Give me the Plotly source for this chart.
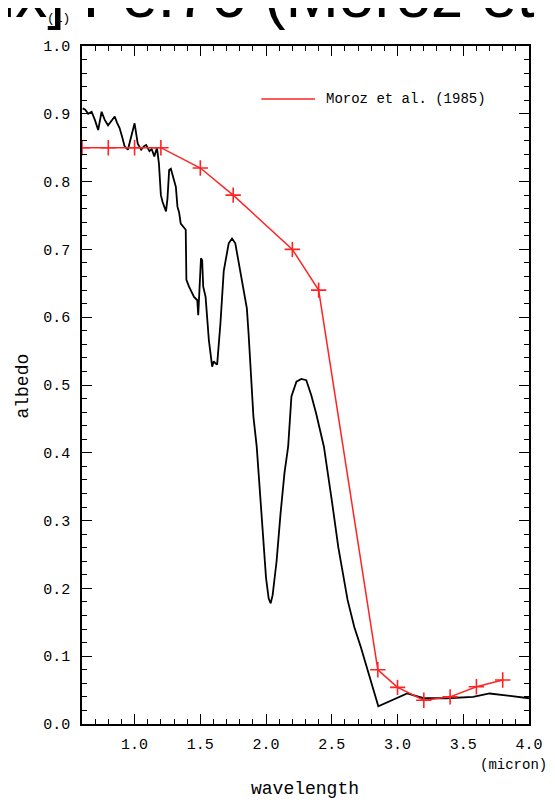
import plotly.graph_objects as go

# Black spectrum
wl_black = [0.605, 0.625, 0.647, 0.673, 0.698, 0.723, 0.749, 0.773, 0.798, 0.82,
            0.849, 0.866, 0.886, 0.905, 0.924, 0.949, 0.975, 1.0, 1.024, 1.05,
            1.07, 1.088, 1.113, 1.13, 1.15, 1.163, 1.17, 1.185, 1.20, 1.213,
            1.239, 1.25, 1.263, 1.276, 1.30, 1.314, 1.326, 1.339, 1.351, 1.376,
            1.389, 1.394, 1.414, 1.452, 1.477, 1.484, 1.495, 1.505, 1.514, 1.522,
            1.54, 1.565, 1.59, 1.602, 1.615, 1.628, 1.653, 1.678, 1.716, 1.741,
            1.766, 1.804, 1.854, 1.867, 1.879, 1.904, 1.929, 1.95, 1.98, 2.00,
            2.02, 2.035, 2.05, 2.08, 2.11, 2.14, 2.168, 2.193, 2.231, 2.268,
            2.306, 2.344, 2.381, 2.419, 2.44, 2.50, 2.55, 2.62, 2.671, 2.72,
            2.771, 2.822, 2.854, 3.073, 3.199, 3.374, 3.575, 3.70, 3.80, 3.90, 4.0]
alb_black = [0.908, 0.906, 0.900, 0.903, 0.891, 0.876, 0.903, 0.891, 0.883, 0.888,
             0.896, 0.887, 0.879, 0.866, 0.852, 0.847, 0.866, 0.886, 0.856, 0.847,
             0.852, 0.854, 0.845, 0.848, 0.837, 0.844, 0.850, 0.827, 0.780, 0.770,
             0.756, 0.775, 0.817, 0.819, 0.800, 0.792, 0.763, 0.754, 0.738, 0.733,
             0.729, 0.655, 0.645, 0.630, 0.625, 0.603, 0.660, 0.687, 0.684, 0.645,
             0.630, 0.566, 0.527, 0.535, 0.532, 0.530, 0.591, 0.668, 0.709, 0.716,
             0.709, 0.665, 0.613, 0.576, 0.536, 0.453, 0.409, 0.350, 0.270, 0.215,
             0.185, 0.178, 0.190, 0.240, 0.310, 0.370, 0.409, 0.483, 0.505, 0.509,
             0.507, 0.485, 0.458, 0.429, 0.409, 0.330, 0.260, 0.183, 0.143, 0.114,
             0.080, 0.045, 0.026, 0.045, 0.038, 0.038, 0.040, 0.045, 0.043, 0.040, 0.038]

# Moroz et al. (1985)
wl_moroz = [0.6, 0.8, 1.0, 1.2, 1.5, 1.75, 2.2, 2.4, 2.85, 3.0, 3.2, 3.4, 3.6, 3.8]
alb_moroz = [0.85, 0.85, 0.85, 0.85, 0.82, 0.78, 0.70, 0.64, 0.08, 0.054, 0.035, 0.04, 0.055, 0.065]

legend_label = "Moroz et al. (1985)"
x_title = "wavelength"
y_title = "albedo"
x_unit = "(micron)"
y_unit = "(1)"
title_text = "ix] Fe.76 (Moroz et al.)"

RED = "#ff2424"
MONO = "Liberation Mono"

fig = go.Figure()
fig.add_trace(go.Scatter(x=wl_black, y=alb_black, mode="lines",
                         line=dict(color="black", width=1.8), showlegend=False))
fig.add_trace(go.Scatter(x=wl_moroz, y=alb_moroz, mode="lines+markers",
                         line=dict(color=RED, width=1.5),
                         marker=dict(symbol="cross-thin", size=11,
                                     line=dict(color=RED, width=1.6)),
                         name=legend_label, showlegend=False))

axis_common = dict(
    showgrid=False, zeroline=False, showline=True, linecolor="black", linewidth=1.5,
    mirror="ticks", ticks="inside", ticklen=10, tickwidth=1.3, tickcolor="black",
    tickfont=dict(family=MONO, size=15, color="black"),
)

fig.update_xaxes(range=[0.6, 4.0], dtick=0.5, tick0=0.5, tickformat=".1f",
                 ticklabelstandoff=5,
                 minor=dict(dtick=0.1, ticks="inside", ticklen=5, tickwidth=1.3,
                            tickcolor="black"),
                 **axis_common)
fig.update_yaxes(range=[0.0, 1.0], dtick=0.1, tick0=0, tickformat=".1f",
                 ticklabelstandoff=7,
                 minor=dict(dtick=0.02, ticks="inside", ticklen=5, tickwidth=1.3,
                            tickcolor="black"),
                 **axis_common)

# Page body adds an 8px offset; plot area target in screenshot pixels
OFF = 8
SX0, SX1, SY0, SY1 = 82, 533, 46, 724
FIG_W, FIG_H = 555 - OFF, 803 - OFF
PW, PH = SX1 - SX0, SY1 - SY0
L, T = SX0 - OFF, SY0 - OFF
R, B = FIG_W - L - PW, FIG_H - T - PH


def px(xs):
    return (xs - SX0) / PW


def py(ys):
    return (SY1 - ys) / PH


annotations = [
    dict(text=x_title, x=px(307), y=py(789), xref="paper", yref="paper",
         showarrow=False, xanchor="center", yanchor="middle",
         font=dict(family=MONO, size=18, color="black")),
    dict(text=y_title, x=px(22), y=py(386), xref="paper", yref="paper",
         showarrow=False, xanchor="center", yanchor="middle", textangle=-90,
         font=dict(family=MONO, size=18, color="black")),
    dict(text=x_unit, x=px(517), y=py(765), xref="paper", yref="paper",
         showarrow=False, xanchor="center", yanchor="middle",
         font=dict(family=MONO, size=14, color="black")),
    dict(text=y_unit, x=px(58), y=py(18), xref="paper", yref="paper",
         showarrow=False, xanchor="center", yanchor="middle",
         font=dict(family=MONO, size=13, color="black")),
    dict(text=legend_label, x=px(326), y=py(99), xref="paper", yref="paper",
         showarrow=False, xanchor="left", yanchor="middle",
         font=dict(family=MONO, size=14, color="black")),
    dict(text=title_text, x=px(-2), y=py(33), xref="paper", yref="paper",
         showarrow=False, xanchor="left", yanchor="bottom",
         font=dict(family="Liberation Sans", size=64, color="black")),
]

shapes = [
    dict(type="line", xref="paper", yref="paper", x0=px(263), x1=px(317),
         y0=py(99), y1=py(99), line=dict(color=RED, width=1.5)),
]

fig.update_layout(
    width=FIG_W, height=FIG_H,
    margin=dict(l=L, r=R, t=T, b=B),
    paper_bgcolor="white", plot_bgcolor="white",
    annotations=annotations, shapes=shapes,
    showlegend=False,
)

fig.write_html("out.html")
